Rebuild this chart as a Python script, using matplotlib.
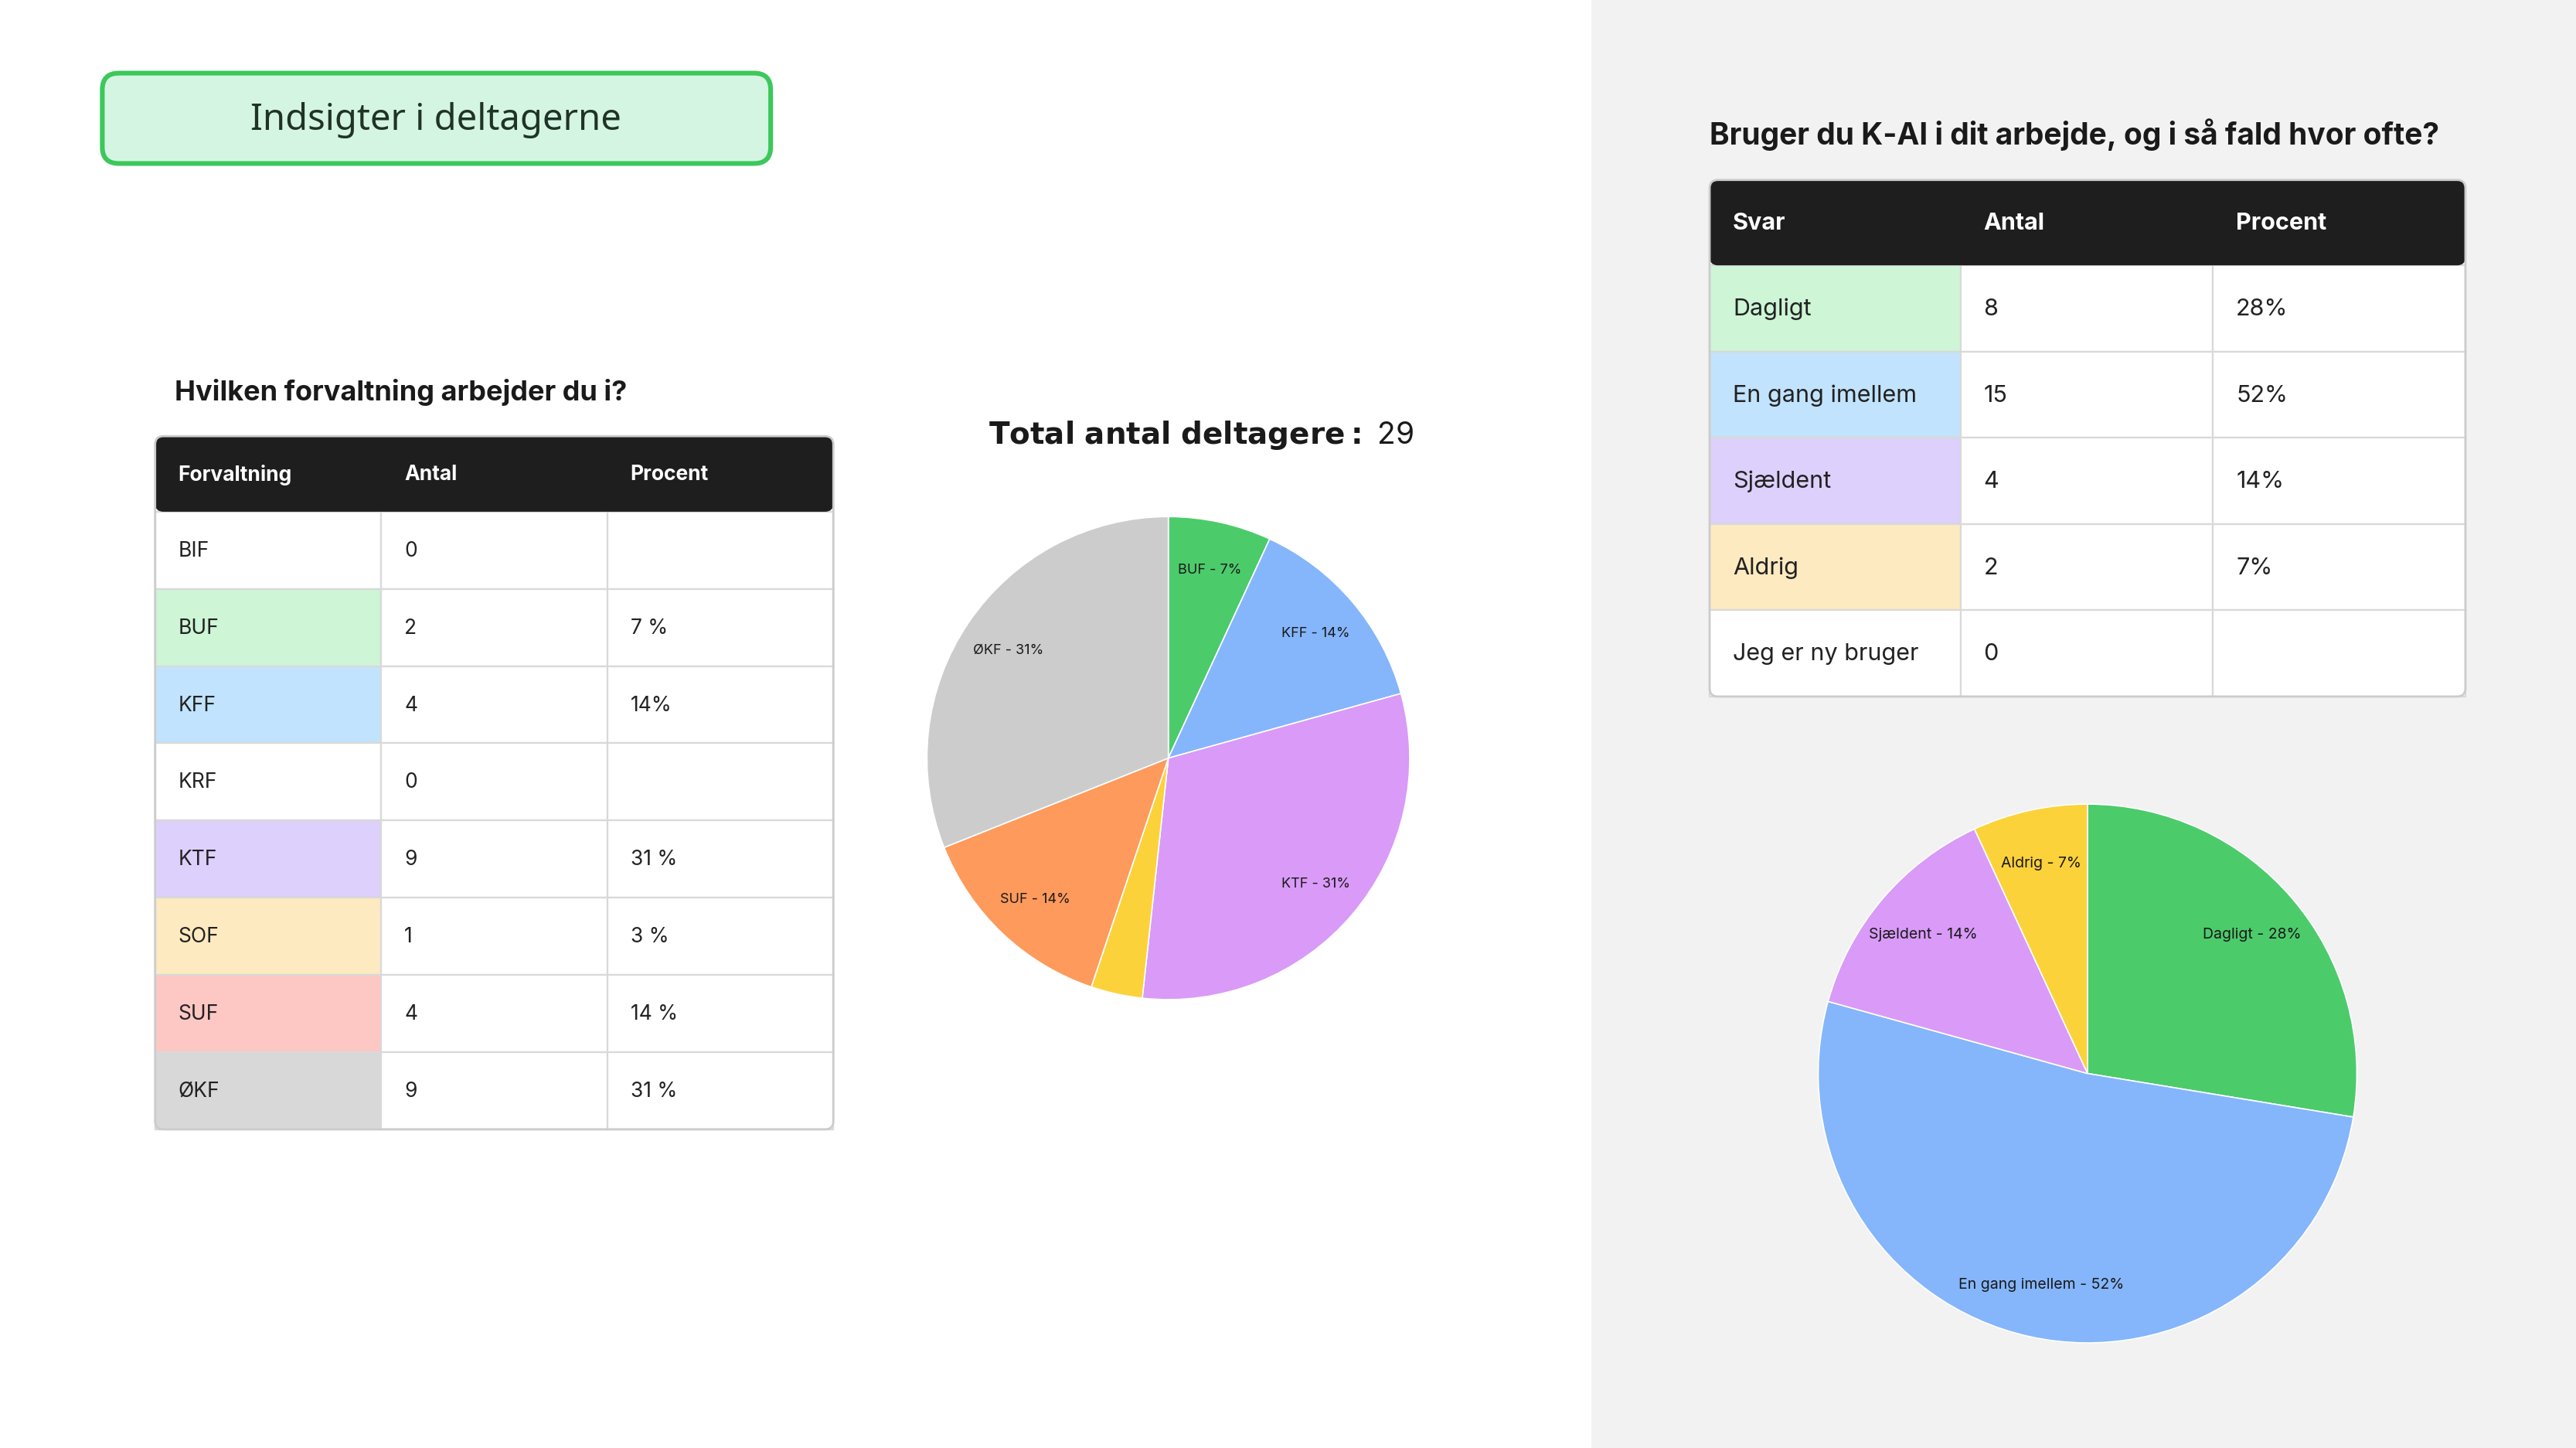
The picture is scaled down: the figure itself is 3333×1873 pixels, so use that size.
import matplotlib.pyplot as plt
from matplotlib.patches import Rectangle, FancyBboxPatch

plt.rcParams['font.family'] = ['Inter', 'DejaVu Sans']

# data
forv_names = ['BIF', 'BUF', 'KFF', 'KRF', 'KTF', 'SOF', 'SUF', 'ØKF']
forv_antal = [0, 2, 4, 0, 9, 1, 4, 9]
forv_pct = ['', '7 %', '14%', '', '31 %', '3 %', '14 %', '31 %']
forv_fill = ['white', '#cdf5d6', '#c2e3fd', 'white', '#ddd0fd', '#fdeac0', '#fdc7c3', '#d8d8d8']

pie1_names = ['BUF', 'KFF', 'KTF', 'SOF', 'SUF', 'ØKF']
pie1_vals = [2, 4, 9, 1, 4, 9]
pie1_labels = ['BUF - 7%', 'KFF - 14%', 'KTF - 31%', '', 'SUF - 14%', 'ØKF - 31%']
pie1_colors = ['#4ccb6b', '#85b6fc', '#d99af8', '#fcd23a', '#fd9a5c', '#cdcccc']

svar_names = ['Dagligt', 'En gang imellem', 'Sjældent', 'Aldrig', 'Jeg er ny bruger']
svar_antal = [8, 15, 4, 2, 0]
svar_pct = ['28%', '52%', '14%', '7%', '']
svar_fill = ['#cdf5d6', '#c2e3fd', '#ddd0fd', '#fdeac0', 'white']

pie2_vals = [8, 15, 4, 2]
pie2_labels = ['Dagligt - 28%', 'En gang imellem - 52%', 'Sjældent - 14%', 'Aldrig - 7%']
pie2_colors = ['#4ccb6b', '#85b6fc', '#d99af8', '#fcd23a']

W, H = 1561, 882
fig = plt.figure(figsize=(16.665, 9.37), dpi=200)
ax = fig.add_axes([0, 0, 1, 1])
ax.set_xlim(0, W)
ax.set_ylim(H, 0)
ax.axis('off')

ax.add_patch(Rectangle((965, 0), W - 965, H, color='#f2f2f2', zorder=0))

# title box
ax.add_patch(FancyBboxPatch((62, 45), 405, 55, boxstyle='round,pad=0,rounding_size=10',
                            fc='#d5f5e3', ec='#3cc85a', lw=2.2))
ax.text(264, 73, 'Indsigter i deltagerne', ha='center', va='center', fontsize=17,
        fontweight='bold', color='#1f3326', family=['Noto Sans', 'DejaVu Sans'])


def draw_table(x0, cols, y0, hh, rh, heads, names, antal, pct, fills, fs, hfs):
    xs = [x0] + list(cols)
    ax.add_patch(FancyBboxPatch((x0, y0), xs[-1] - x0, hh, boxstyle='round,pad=0,rounding_size=5',
                                fc='#1e1e1e', ec='none', zorder=2))
    for i, h in enumerate(heads):
        ax.text(xs[i] + 14, y0 + hh / 2, h, color='white', fontsize=hfs, fontweight='bold',
                va='center', zorder=3)
    n = len(names)
    for r in range(n):
        y = y0 + hh + r * rh
        ax.add_patch(Rectangle((xs[0], y), xs[1] - xs[0], rh, fc=fills[r], ec='#d9d9d9', lw=0.8, zorder=1))
        ax.add_patch(Rectangle((xs[1], y), xs[2] - xs[1], rh, fc='white', ec='#d9d9d9', lw=0.8, zorder=1))
        ax.add_patch(Rectangle((xs[2], y), xs[3] - xs[2], rh, fc='white', ec='#d9d9d9', lw=0.8, zorder=1))
        for i, v in enumerate([names[r], str(antal[r]), pct[r]]):
            ax.text(xs[i] + 14, y + rh / 2, v, fontsize=fs, va='center', color='#222222', zorder=3)
    ax.add_patch(FancyBboxPatch((x0, y0), xs[-1] - x0, hh + n * rh, boxstyle='round,pad=0,rounding_size=5',
                                fc='none', ec='#cccccc', lw=1, zorder=4))


ax.text(106, 239, 'Hvilken forvaltning arbejder du i?', fontsize=13, fontweight='bold',
        va='center', color='#1a1a1a')
draw_table(94, [231, 368, 505], 266, 46, 47, ['Forvaltning', 'Antal', 'Procent'],
           forv_names, forv_antal, forv_pct, forv_fill, 9.5, 9.5)

ax.text(1036, 82, 'Bruger du K-AI i dit arbejde, og i så fald hvor ofte?', fontsize=14,
        fontweight='bold', va='center', color='#1a1a1a')
draw_table(1036, [1188, 1341, 1494], 110, 52, 52.5, ['Svar', 'Antal', 'Procent'],
           svar_names, svar_antal, svar_pct, svar_fill, 11, 11)

ax.text(728, 265, r'$\bf{Total\ antal\ deltagere:}$ 29', ha='center', va='center', fontsize=14,
        color='#1a1a1a')


def draw_pie(cx, cy, r, vals, labels, colors, fs):
    pax = fig.add_axes([(cx - r) / W, 1 - (cy + r) / H, 2 * r / W, 2 * r / H])
    wedges, texts = pax.pie(vals, labels=labels, colors=colors, startangle=90, counterclock=False,
                            labeldistance=0.8, wedgeprops=dict(linewidth=0.6, edgecolor='white'),
                            textprops=dict(fontsize=fs, color='#1a1a1a'))
    for t in texts:
        t.set_ha('center')
        t.set_va('center')
    pax.set_xlim(-1, 1)
    pax.set_ylim(-1, 1)
    pax.axis('off')


draw_pie(708, 462, 147, pie1_vals, pie1_labels, pie1_colors, 6.5)
draw_pie(1265, 654, 164, pie2_vals, pie2_labels, pie2_colors, 7)

fig.savefig('out.png', dpi=200)
